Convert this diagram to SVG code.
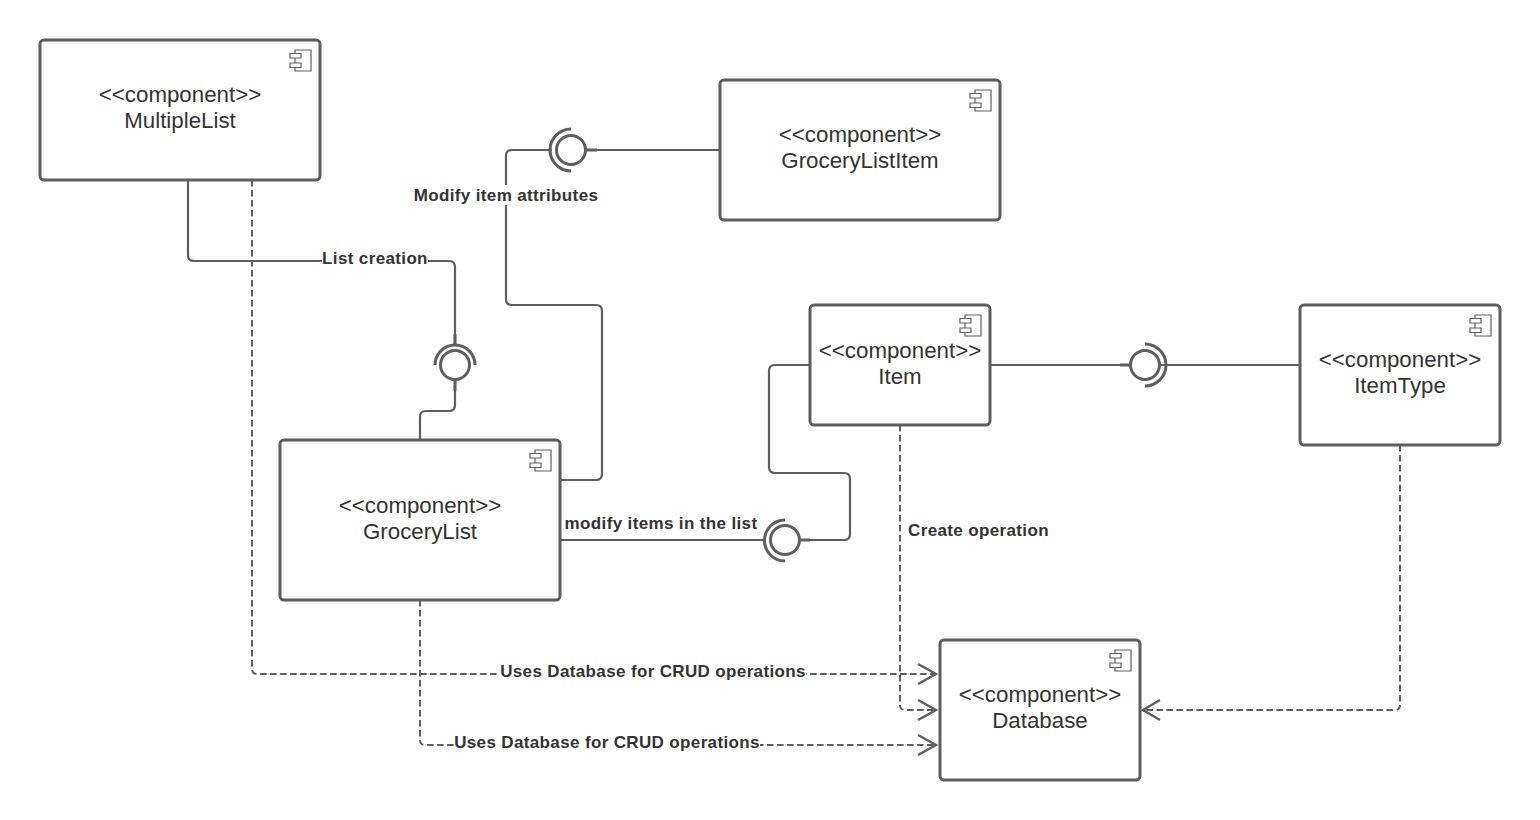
<svg xmlns="http://www.w3.org/2000/svg" width="1540" height="820" viewBox="0 0 1540 820">
<style>
.box{fill:#fff;stroke:#5e5e5e;stroke-width:3}
.ico{fill:#fff;stroke:#5e5e5e;stroke-width:1.2}
.t{font-family:"Liberation Sans",Arial,sans-serif;font-size:22.3px;fill:#333;text-anchor:middle}
.l{font-family:"Liberation Sans",Arial,sans-serif;font-size:17px;letter-spacing:.36px;font-weight:700;fill:#333;text-anchor:middle}
.c{fill:none;stroke:#5e5e5e;stroke-width:2.2}
.d{fill:none;stroke:#5e5e5e;stroke-width:2;stroke-dasharray:6.500 3.500}
.h{fill:none;stroke:#5e5e5e;stroke-width:2.4}
.bg{fill:#fff}
.s{fill:#fff;stroke:#5e5e5e;stroke-width:3}
.a{fill:none;stroke:#5e5e5e;stroke-width:3}
.st{fill:none;stroke:#5e5e5e;stroke-width:3}
</style>
<defs>
<g id="icon">
<path class="ico" d="M-11 0H5V21H-11Z"/>
<path class="ico" d="M-16 3.500H-5V8H-16ZM-16 13H-5V17.500H-16Z"/>
</g>
</defs>
<g id="connectors">
<path class="c" d="M188 180V255Q188 261 194 261H449Q455 261 455 267V345"/>
<path class="c" d="M455 381V405Q455 411 449 411H426Q420 411 420 417V440"/>
<path class="c" d="M552 150H512Q506 150 506 156V299Q506 305 512 305H596Q602 305 602 311V474Q602 480 596 480H560"/>
<path class="c" d="M586 150H720"/>
<path class="c" d="M560 540H766"/>
<path class="c" d="M800 540H844Q850 540 850 534V479Q850 473 844 473H775Q769 473 769 467V371Q769 365 775 365H810"/>
<path class="c" d="M990 365H1132"/>
<path class="c" d="M1160 365H1300"/>
<path class="st" d="M455 334V345M455 380V391M585 150H597M800 540H810M1120 365H1131"/>
<path class="d" d="M252 180V669Q252 674 257 674H936"/>
<path class="d" d="M420 600V740Q420 745 425 745H936"/>
<path class="d" d="M900 425V705Q900 710 905 710H936"/>
<path class="d" d="M1400 445V705Q1400 710 1395 710H1143"/>
<path class="h" d="M918 664L936 674L918 684"/>
<path class="h" d="M918 700L936 710L918 720"/>
<path class="h" d="M918 735L936 745L918 755"/>
<path class="h" d="M1160 700L1143 710L1160 720"/>
</g>
<g id="iface-list-creation"><path class="a" d="M435 365A20 20 0 0 1 475 365"/><circle class="s" cx="455" cy="365" r="14.5"/></g>
<g id="iface-modify-attrs"><path class="a" d="M571 129A21 21 0 0 0 571 171"/><circle class="s" cx="571" cy="150" r="14.5"/></g>
<g id="iface-modify-items"><path class="a" d="M785 520A20.500 20.500 0 0 0 785 561"/><circle class="s" cx="785" cy="540" r="14.5"/></g>
<g id="iface-item-type"><path class="a" d="M1145 344A21 21 0 0 1 1145 386"/><circle class="s" cx="1145" cy="365" r="14.500"/></g>
<g id="node-multiplelist"><rect class="box" x="40" y="40" width="280" height="140" rx="4"/><use href="#icon" x="306" y="50"/><text class="t" x="180" y="102">&lt;&lt;component&gt;&gt;</text><text class="t" x="180" y="128">MultipleList</text></g>
<g id="node-grocerylistitem"><rect class="box" x="720" y="80" width="280" height="140" rx="4"/><use href="#icon" x="986" y="90"/><text class="t" x="860" y="142">&lt;&lt;component&gt;&gt;</text><text class="t" x="860" y="168">GroceryListItem</text></g>
<g id="node-grocerylist"><rect class="box" x="280" y="440" width="280" height="160" rx="4"/><use href="#icon" x="546" y="450"/><text class="t" x="420" y="513">&lt;&lt;component&gt;&gt;</text><text class="t" x="420" y="539">GroceryList</text></g>
<g id="node-item"><rect class="box" x="810" y="305" width="180" height="120" rx="4"/><use href="#icon" x="976" y="315"/><text class="t" x="900" y="358">&lt;&lt;component&gt;&gt;</text><text class="t" x="900" y="384">Item</text></g>
<g id="node-itemtype"><rect class="box" x="1300" y="305" width="200" height="140" rx="4"/><use href="#icon" x="1486" y="315"/><text class="t" x="1400" y="367">&lt;&lt;component&gt;&gt;</text><text class="t" x="1400" y="393">ItemType</text></g>
<g id="node-database"><rect class="box" x="940" y="640" width="200" height="140" rx="4"/><use href="#icon" x="1126" y="650"/><text class="t" x="1040" y="702">&lt;&lt;component&gt;&gt;</text><text class="t" x="1040" y="728">Database</text></g>
<g id="labels">
<rect class="bg" x="322" y="248" width="106" height="20"/><text class="l" x="375" y="263.500">List creation</text>
<rect class="bg" x="414" y="185" width="184" height="20"/><text class="l" x="506" y="201">Modify item attributes</text>
<text class="l" x="661" y="529">modify items in the list</text>
<text class="l" x="978.500" y="536">Create operation</text>
<rect class="bg" x="500" y="661" width="306" height="20"/><text class="l" x="653" y="677">Uses Database for CRUD operations</text>
<rect class="bg" x="454" y="732" width="306" height="20"/><text class="l" x="607" y="748">Uses Database for CRUD operations</text>
</g>
</svg>
